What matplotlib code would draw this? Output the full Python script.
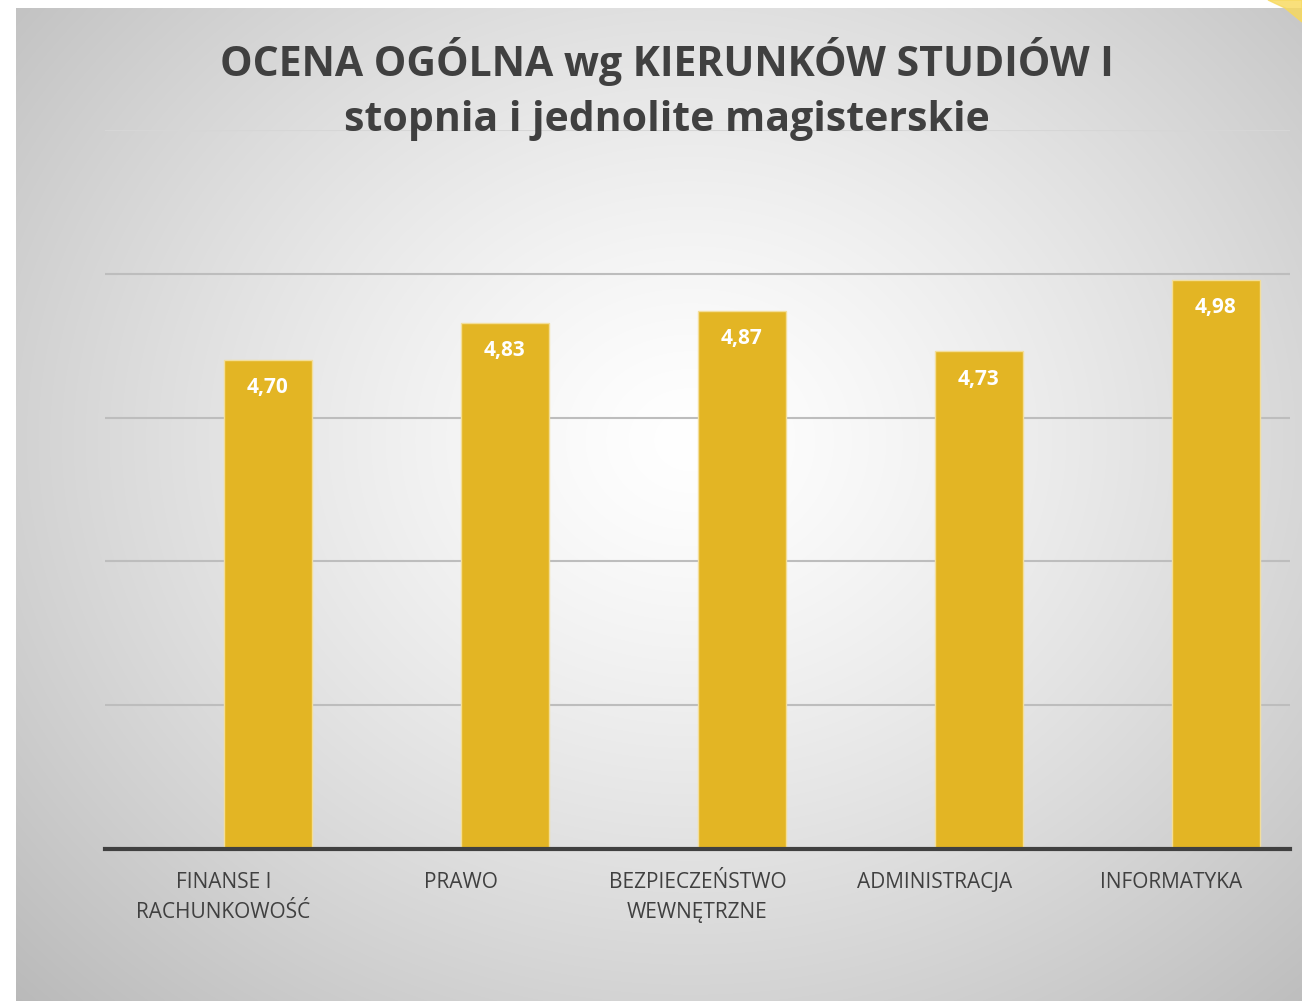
import numpy as np
import matplotlib.pyplot as plt
from matplotlib.patches import Polygon

# dane wykresu
kierunki = ['FINANSE I\nRACHUNKOWOŚĆ', 'PRAWO', 'BEZPIECZEŃSTWO\nWEWNĘTRZNE',
            'ADMINISTRACJA', 'INFORMATYKA']
oceny = [4.70, 4.83, 4.87, 4.73, 4.98]
tytul = 'OCENA OGÓLNA wg KIERUNKÓW STUDIÓW I\nstopnia i jednolite magisterskie'

plt.rcParams['font.family'] = ['Open Sans', 'DejaVu Sans']

fig = plt.figure(figsize=(13.02, 10.01), dpi=100)
W, H = 1302, 1001

# tlo: panel z gradientem radialnym
bg = fig.add_axes([0, 0, 1, 1], zorder=0)
bg.set_xlim(0, W)
bg.set_ylim(H, 0)
bg.axis('off')
yy, xx = np.mgrid[0:H, 0:W]
r = np.sqrt(((xx - 690) / 1.0) ** 2 + ((yy - 440) / 0.85) ** 2)
g = 1.0 - 0.22 * np.clip(r / 800, 0, 1.3) ** 1.3
img = np.dstack([g, g, g])
img[:8, :, :] = 1.0
img[:, :16, :] = 1.0
bg.imshow(img, extent=(0, W, H, 0), aspect='auto', interpolation='bilinear')
bg.add_patch(Polygon([[1268, 0], [1302, 0], [1302, 22], [1285, 8]],
                     closed=True, color='#F8D95A', alpha=0.8))

ax = fig.add_axes([105 / W, 1 - 849 / H, (1290 - 105) / W, (849 - 130) / H], zorder=1)
ax.patch.set_alpha(0)

# slupki przesuniete w prawo od srodka kategorii (jak w oryginale)
x = np.arange(len(kierunki))
bars = ax.bar(x, oceny, width=0.375, align='edge', color='#E3B524',
              edgecolor='#F3DE9A', linewidth=1.0, zorder=3)

for b, v in zip(bars, oceny):
    ax.annotate(f'{v:.2f}'.replace('.', ','), (b.get_x() + b.get_width() / 2, v),
                xytext=(0, -20), textcoords='offset points', ha='center', va='center',
                color='white', fontsize=15, fontweight='bold', zorder=4)

ax.set_xlim(-0.5, len(kierunki) - 0.5)
ax.set_ylim(3.0, 5.5)
ax.set_yticks([3.5, 4.0, 4.5, 5.0, 5.5])
ax.yaxis.grid(True, color='#BDBDBD', linewidth=1.5, zorder=1)
ax.tick_params(axis='y', length=0, labelleft=False)
ax.set_xticks(x)
ax.set_xticklabels(kierunki, fontsize=15, color='#404040', linespacing=1.55)
ax.tick_params(axis='x', length=0, pad=16.5)
for s in ['top', 'right', 'left']:
    ax.spines[s].set_visible(False)
ax.spines['bottom'].set_color('#404040')
ax.spines['bottom'].set_linewidth(3)
ax.spines['bottom'].set_zorder(5)
ax.get_ygridlines()[-1].set_color('#D6D6D6')

fig.text(667 / W, 1 - 89 / H, tytul, ha='center', va='center', fontsize=29.5,
         fontweight='bold', color='#404040', linespacing=1.45, zorder=6)

plt.savefig('out.png', dpi=100)
